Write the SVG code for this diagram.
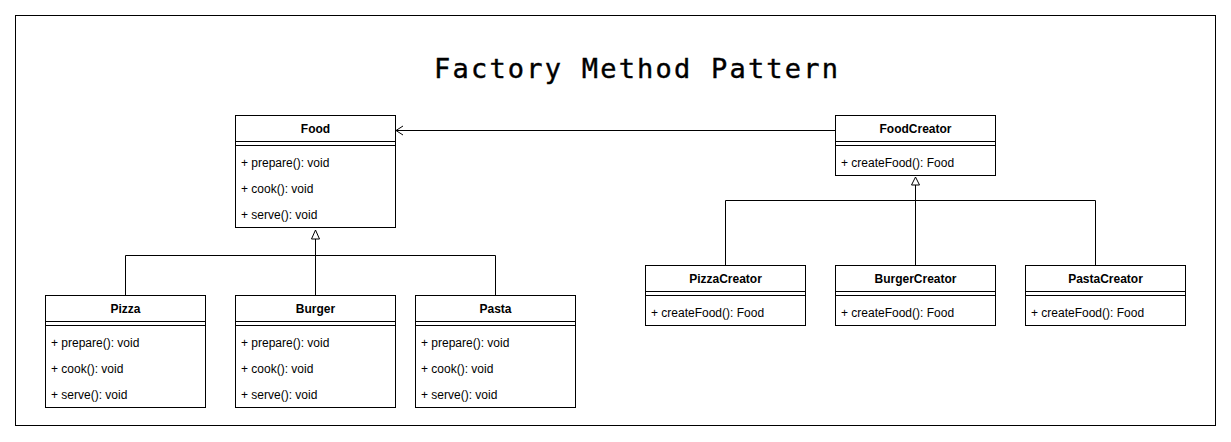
<svg xmlns="http://www.w3.org/2000/svg" width="1231" height="442" viewBox="0 0 1231 442">
<style>
.box{fill:#fff;stroke:#000;stroke-width:1}
.ln{stroke:#000;stroke-width:1;fill:none}
.hd{font-family:"Liberation Sans",Arial,sans-serif;font-size:12px;font-weight:bold;text-anchor:middle;fill:#000}
.it{font-family:"Liberation Sans",Arial,sans-serif;font-size:12px;fill:#000}
.tri{fill:#fff;stroke:#000;stroke-width:1}
</style>
<rect x="0" y="0" width="1231" height="442" fill="#fff"/>
<rect x="15.5" y="15.5" width="1200" height="410" fill="none" stroke="#000" stroke-width="1"/>
<text x="434" y="78" font-family="'DejaVu Sans Mono','Liberation Mono',monospace" font-size="27" textLength="404" lengthAdjust="spacing" fill="#000" stroke="#000" stroke-width="0.4">Factory Method Pattern</text>

<g id="connectors">
  <path class="ln" d="M125.5,295 V255.5 H315.5 V239"/>
  <path class="ln" d="M315.5,295 V239"/>
  <path class="ln" d="M495.5,295 V255.5 H315.5 V239"/>
  <polygon class="tri" points="315.5,230 311.5,239 319.5,239"/>
  <path class="ln" d="M725.5,265 V200.5 H915.5 V185"/>
  <path class="ln" d="M915.5,265 V185"/>
  <path class="ln" d="M1095.5,265 V200.5 H915.5 V185"/>
  <polygon class="tri" points="915.5,177 911.5,185 919.5,185"/>
  <path class="ln" d="M835,130.5 H396"/>
  <path class="ln" d="M403,126 L396,130.5 L403,135"/>
</g>

<g id="Food">
  <rect class="box" x="235.5" y="115.5" width="160" height="112"/>
  <path class="ln" d="M235.5,141.5 H395.5 M235.5,145.5 H395.5"/>
  <text class="hd" x="315.5" y="133">Food</text>
  <text class="it" x="241" y="167">+ prepare(): void</text>
  <text class="it" x="241" y="193">+ cook(): void</text>
  <text class="it" x="241" y="219">+ serve(): void</text>
</g>

<g id="FoodCreator">
  <rect class="box" x="835.5" y="115.5" width="160" height="60"/>
  <path class="ln" d="M835.5,141.5 H995.5 M835.5,145.5 H995.5"/>
  <text class="hd" x="915.5" y="133">FoodCreator</text>
  <text class="it" x="841" y="167">+ createFood(): Food</text>
</g>

<g id="Pizza">
  <rect class="box" x="45.5" y="295.5" width="160" height="112"/>
  <path class="ln" d="M45.5,321.5 H205.5 M45.5,325.5 H205.5"/>
  <text class="hd" x="125.5" y="313">Pizza</text>
  <text class="it" x="51" y="347">+ prepare(): void</text>
  <text class="it" x="51" y="373">+ cook(): void</text>
  <text class="it" x="51" y="399">+ serve(): void</text>
</g>

<g id="Burger">
  <rect class="box" x="235.5" y="295.5" width="160" height="112"/>
  <path class="ln" d="M235.5,321.5 H395.5 M235.5,325.5 H395.5"/>
  <text class="hd" x="315.5" y="313">Burger</text>
  <text class="it" x="241" y="347">+ prepare(): void</text>
  <text class="it" x="241" y="373">+ cook(): void</text>
  <text class="it" x="241" y="399">+ serve(): void</text>
</g>

<g id="Pasta">
  <rect class="box" x="415.5" y="295.5" width="160" height="112"/>
  <path class="ln" d="M415.5,321.5 H575.5 M415.5,325.5 H575.5"/>
  <text class="hd" x="495.5" y="313">Pasta</text>
  <text class="it" x="421" y="347">+ prepare(): void</text>
  <text class="it" x="421" y="373">+ cook(): void</text>
  <text class="it" x="421" y="399">+ serve(): void</text>
</g>

<g id="PizzaCreator">
  <rect class="box" x="645.5" y="265.5" width="160" height="60"/>
  <path class="ln" d="M645.5,291.5 H805.5 M645.5,295.5 H805.5"/>
  <text class="hd" x="725.5" y="283">PizzaCreator</text>
  <text class="it" x="651" y="317">+ createFood(): Food</text>
</g>

<g id="BurgerCreator">
  <rect class="box" x="835.5" y="265.5" width="160" height="60"/>
  <path class="ln" d="M835.5,291.5 H995.5 M835.5,295.5 H995.5"/>
  <text class="hd" x="915.5" y="283">BurgerCreator</text>
  <text class="it" x="841" y="317">+ createFood(): Food</text>
</g>

<g id="PastaCreator">
  <rect class="box" x="1025.5" y="265.5" width="160" height="60"/>
  <path class="ln" d="M1025.5,291.5 H1185.5 M1025.5,295.5 H1185.5"/>
  <text class="hd" x="1105.5" y="283">PastaCreator</text>
  <text class="it" x="1031" y="317">+ createFood(): Food</text>
</g>
</svg>
